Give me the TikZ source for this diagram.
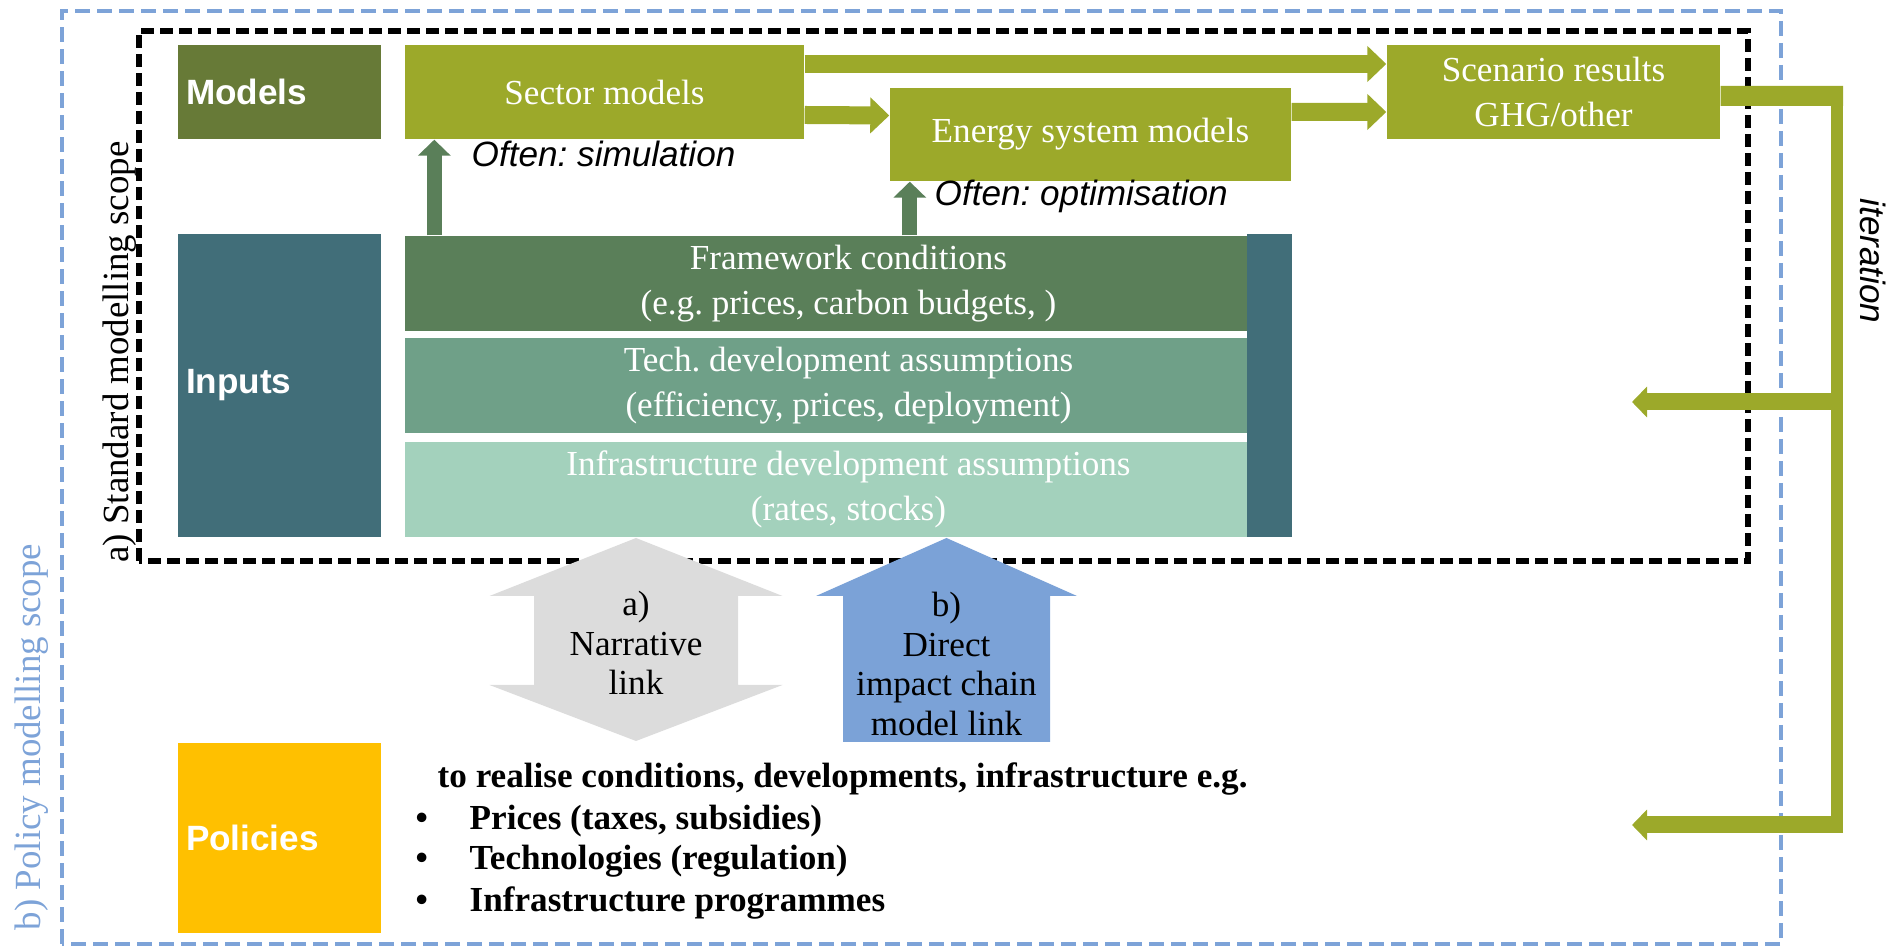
\documentclass[tikz,border=0pt]{standalone}
\usepackage{fontspec}
\setmainfont{Liberation Serif}
\setsansfont{Liberation Sans}
\usetikzlibrary{arrows.meta}
\frenchspacing

\definecolor{modeldark}{HTML}{677A37}
\definecolor{olivegreen}{HTML}{9CA92A}
\definecolor{inputteal}{HTML}{416E79}
\definecolor{framegreen}{HTML}{5A7F59}
\definecolor{techgreen}{HTML}{6FA088}
\definecolor{infragreen}{HTML}{A3D1BC}
\definecolor{linkgray}{HTML}{DCDCDC}
\definecolor{linkblue}{HTML}{7BA2D7}
\definecolor{policyorange}{HTML}{FFC000}
\definecolor{scopeblue}{HTML}{7DA3D8}

\tikzset{
    block/.style={inner sep=0pt, minimum height=0.94cm},
    boxtext/.style={text=white, align=center, font=\fontsize{10}{12.6}\selectfont},
    tag/.style={text=white, inner sep=0pt, font=\sffamily\bfseries\fontsize{10}{12}\selectfont},
    scopeline/.style={line width=0.045cm},
    scopelabel/.style={inner sep=0pt, font=\fontsize{10.5}{12}\selectfont},
    fwd/.style={draw=olivegreen, line width=0.18cm,
        -{Triangle[length=0.19cm,width=0.35cm]}},
    back/.style={draw=olivegreen, line width=0.17cm,
        -{Triangle[length=0.15cm,width=0.30cm]}},
    feed/.style={draw=framegreen, line width=0.15cm,
        -{Triangle[length=0.16cm,width=0.32cm]}},
    note/.style={inner sep=0pt, font=\sffamily\itshape\fontsize{10}{12}\selectfont},
    linktext/.style={align=center, font=\fontsize{10}{11.3}\selectfont},
    listtext/.style={inner sep=0pt, font=\bfseries\fontsize{10}{12}\selectfont},
}

\begin{document}
\begin{tikzpicture}
    \useasboundingbox (0,0) rectangle (18.93,9.47);

    \draw[scopeline, draw=scopeblue, dash pattern=on 0.15cm off 0.07cm]
        (0.62,0.03) rectangle (17.81,9.36);
    \draw[scopeline, line width=0.058cm, dash pattern=on 0.13cm off 0.06cm]
        (1.39,3.86) rectangle (17.48,9.16);

    \node[scopelabel, rotate=90] (stdscope) at (1.20,5.95)
        {a) Standard modelling scope};
    \node[scopelabel, rotate=90, text=scopeblue] (polscope) at (0.32,2.10)
        {b) Policy modelling scope};

    \node[block, fill=modeldark, minimum width=2.03cm] (models) at (2.795,8.55) {};
    \node[tag, anchor=west] at ([xshift=0.08cm]models.west) {Models};
    \node[block, boxtext, fill=olivegreen, minimum width=3.99cm] (sector)
        at (6.045,8.55) {Sector models};
    \node[block, boxtext, fill=olivegreen, minimum width=4.01cm,
        minimum height=0.93cm] (energy) at (10.905,8.125) {Energy system models};
    \node[block, boxtext, fill=olivegreen, minimum width=3.33cm] (scenario)
        at (15.535,8.55) {Scenario results\\GHG/other};

    \draw[fwd] ([yshift=0.28cm]sector.east) -- ([yshift=0.28cm]scenario.west);
    \draw[fwd] ([yshift=-0.23cm]sector.east) -- ([yshift=0.19cm]energy.west);
    \draw[fwd] ([yshift=0.225cm]energy.east) -- ([yshift=-0.20cm]scenario.west);

    \node[block, fill=inputteal, minimum width=2.03cm, minimum height=3.03cm]
        (inputs) at (2.795,5.615) {};
    \node[tag, anchor=west] at ([xshift=0.08cm]inputs.west) {Inputs};
    \node[block, boxtext, fill=framegreen, minimum width=8.87cm,
        minimum height=0.95cm] (framework) at (8.485,6.635)
        {Framework conditions\\(e.g. prices, carbon budgets, )};
    \node[block, boxtext, fill=techgreen, minimum width=8.87cm,
        minimum height=0.95cm] (tech) at (8.485,5.615)
        {Tech. development assumptions\\(efficiency, prices, deployment)};
    \node[block, boxtext, fill=infragreen, minimum width=8.87cm,
        minimum height=0.95cm] (infra) at (8.485,4.575)
        {Infrastructure development assumptions\\(rates, stocks)};
    \node[block, fill=inputteal, minimum width=0.45cm, minimum height=3.03cm]
        (sidebar) at (12.695,5.615) {};

    \coordinate (simx) at ([xshift=0.30cm]sector.south west);
    \coordinate (optx) at ([xshift=0.205cm]energy.south west);
    \draw[feed] (simx |- framework.north) -- (simx);
    \draw[feed] (optx |- framework.north) -- (optx);
    \node[note, anchor=west] (simnote) at (4.71,7.93) {Often: simulation};
    \node[note, anchor=west] (optnote) at (9.34,7.51) {Often: optimisation};

    \coordinate (loopTop) at (18.37,8.51);
    \coordinate (loopMid) at (18.37,5.45);
    \coordinate (loopEnd) at (18.37,1.22);
    \coordinate (backIn) at (16.32,5.45);
    \coordinate (backPol) at (16.32,1.22);
    \draw[draw=olivegreen, line width=0.20cm]
        ([yshift=-0.04cm]scenario.east) -- ([xshift=0.06cm]loopTop);
    \draw[draw=olivegreen, line width=0.12cm]
        ([yshift=0.10cm]loopTop) -- ([yshift=-0.08cm]loopEnd);
    \draw[back] ([xshift=-0.06cm]loopMid) -- (backIn);
    \draw[back] ([xshift=0.06cm]loopEnd) -- (backPol);
    \node[note, rotate=-90] (iter) at (18.73,6.86) {iteration};

    \fill[linkgray] (6.36,4.09) -- (7.825,3.51) -- (7.38,3.51) -- (7.38,2.62)
        -- (7.825,2.62) -- (6.36,2.06) -- (4.895,2.62) -- (5.34,2.62)
        -- (5.34,3.51) -- (4.895,3.51) -- cycle;
    \node[linktext] (narrative) at (6.36,3.04) {a)\\Narrative\\link};
    \fill[linkblue] (9.465,4.09) -- (10.77,3.51) -- (10.50,3.51) -- (10.50,2.05)
        -- (8.43,2.05) -- (8.43,3.51) -- (8.16,3.51) -- cycle;
    \node[linktext] (direct) at (9.465,2.83)
        {b)\\Direct\\impact chain\\model link};

    \node[block, fill=policyorange, minimum width=2.03cm, minimum height=1.90cm]
        (policies) at (2.795,1.09) {};
    \node[tag, anchor=west] at ([xshift=0.08cm]policies.west) {Policies};
    \node[listtext, anchor=base west] (realise) at (4.37,1.59)
        {to realise conditions, developments, infrastructure e.g.};
    \foreach \y/\t [count=\i] in {1.17/{Prices (taxes, subsidies)},
            0.77/{Technologies (regulation)}, 0.35/{Infrastructure programmes}} {
        \node[listtext, anchor=base west] (dot\i) at (4.15,\y) {\textbullet};
        \node[listtext, anchor=base west] (item\i) at (4.69,\y) {\t};
    }
\end{tikzpicture}
\end{document}
